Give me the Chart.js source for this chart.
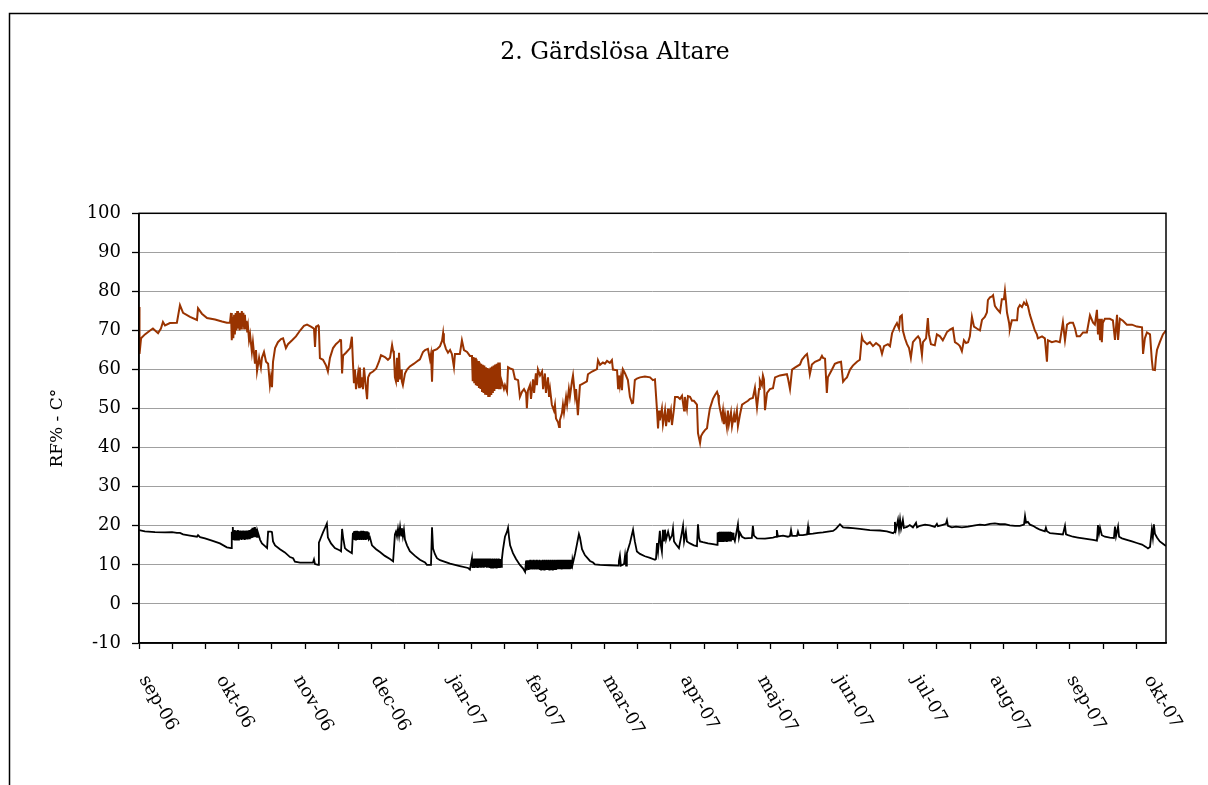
<!DOCTYPE html>
<html>
<head>
<meta charset="utf-8">
<script src="https://cdn.jsdelivr.net/npm/chart.js@4.4.0/dist/chart.umd.min.js"></script>
<style>
  html, body { margin: 0; padding: 0; background: #fff; }
  #wrap { position: relative; width: 1208px; height: 785px; overflow: hidden; }
  canvas { position: absolute; left: 0; top: 0; }
</style>
</head>
<body>
<div id="wrap"><canvas id="c" width="1208" height="785"></canvas></div>
<script>
// ---------- DATA ----------
const chartTitle = '2. Gärdslösa Altare';
const yAxisTitle = 'RF% - C°';
const monthLabels = ['sep-06','okt-06','nov-06','dec-06','jan-07','feb-07','mar-07','apr-07','maj-07','jun-07','jul-07','aug-07','sep-07','okt-07'];
const labelStepDays = 30;      // one month label per 30 days
const tickStepDays = 12.9;     // minor tick marks along the time axis
const totalDays = 398.5;       // length of the logged period
const yMin = -10, yMax = 100, yStep = 10;

// Relative humidity (RF %), [day, value]
const rfReadings = [[0,76],[0.2,64],[0.8,68],[2.3,69],[4.3,70],[5.4,70.5],[7.4,69.3],[8.5,70.5],[9.3,72.2],[10.1,71.3],[12.0,71.9],[14.7,72],[15.9,76.5],[17.1,74.5],[19.8,73.5],[22.5,72.7],[22.9,75.7],[24.4,74.3],[26.4,73.2],[29.5,72.8],[32.2,72.3],[34.1,72],[35.3,72],
[35.7,74.5],[36.0,67.5],[36.3,73.5],[36.6,68],[36.9,74],[37.2,69],[37.5,74.5],[37.8,70],[38.1,75],[38.4,70.5],[38.7,74.5],[39.0,70],[39.3,74.5],[39.6,70.5],[39.9,75],[40.2,71],[40.5,74.5],[40.8,70.5],[41.1,74],[41.4,70.5],[41.7,72.5],[42.0,69.5],[42.3,71],
[42.7,67.5],[43.1,69],[43.8,64.5],[44.2,67],[45.0,61.5],[45.4,65],[45.8,59.6],[46.6,63],[47.3,60.5],[47.7,63],[48.5,64.5],[49.3,62],[50.1,61.5],[50.8,56],[51.2,58],[51.6,55.5],[52.0,62],[52.8,65.5],[53.9,67],[55.1,67.8],[55.9,68],[57.0,65.5],[57.8,66.5],[59.4,67.5],[60.9,68.5],[62.5,70],[64.0,71.2],[65.2,71.5],[66.7,71],[67.9,70.5],[68.3,65.8],[68.7,71],[69.5,71.3],[69.8,70.5],[70.2,62.9],[71.4,62.5],[72.6,61],[73.3,59.5],[74.1,63],[75.3,65.5],[76.4,66.5],[77.6,67.2],[78.0,67.6],[78.4,67.5],[78.8,59],[79.2,63.6],[80.3,64.3],[81.9,65.5],[82.6,68.4],[83.0,62],[83.4,56.5],[83.8,60],[84.2,55],[85.0,59],[85.4,55.5],[85.7,60.5],[86.1,55.5],[86.5,58],[86.9,55],[87.3,60.5],[88.1,55],[88.5,52.4],[88.9,58],[89.6,59],[90.8,59.5],[92.0,60.2],[93.1,62],[93.9,63.7],[95.4,63.2],[96.6,62.5],[97.4,63],[98.2,66.3],[98.6,64.8],[98.9,64],[99.3,58],[99.7,57],[100.1,63],[100.5,56.8],[100.9,64.3],[101.3,57.5],[101.7,60],[102.0,57],[102.4,56],[103.2,59],[104.0,60],[105.1,60.8],[106.7,61.5],[108.3,62.3],[109.0,62.6],[110.2,64.5],[111.0,65],[112.1,65.3],[112.9,62.6],[113.3,64],[113.7,56.9],[114.1,64.8],[115.6,65.2],[116.8,66],[117.6,67.4],[118.0,69.3],[118.3,67],[119.1,65.3],[119.9,64.3],[120.7,65],[121.4,64],[122.2,60.6],[122.6,64],[124.5,64],[125.3,67.5],[126.1,65],[127.3,64.5],[128.4,63.5],
[129.2,63.5],[129.5,57],[129.8,63.2],[130.1,56.5],[130.4,63],[130.7,56],[131.0,62.6],[131.3,55.8],[131.6,62.2],[131.9,55.3],[132.2,61.8],[132.5,55],[132.8,61.5],[133.1,54.5],[133.4,61.2],[133.7,54],[134.0,61],[134.3,53.8],[134.6,60.6],[134.9,53.5],[135.2,60.4],[135.5,53.2],[135.8,60.3],[136.1,53],[136.4,60.5],[136.7,53.5],[137.0,60.8],[137.3,54],[137.6,61],[137.9,54.5],[138.2,61.3],[138.5,55],[138.8,61.5],[139.1,55],[139.4,61.8],[139.7,55.2],[140.0,61.8],[140.3,55],[140.6,57.3],
[141.6,55],[142.0,56],[142.8,54.4],[143.2,60.6],[144.0,60.3],[145.1,60],[145.9,57.6],[147.1,57.3],[147.8,53],[148.6,54.3],[149.4,55],[150.2,54],[150.5,50.1],[150.9,54.6],[151.7,56],[152.1,52.5],[152.9,57.5],[153.3,54],[154.0,59],[154.4,56],[154.8,60],[155.6,58.5],[156.4,59.5],[156.8,55],[157.5,59],[157.9,54],[158.7,58],[159.1,53],[159.5,55],[160.2,51],[161.0,49.5],[161.4,51],[161.8,47.5],[162.6,46.5],[163.0,45.3],[163.3,47],[164.1,48.8],[164.5,51],[164.9,49],[165.7,53],[166.1,51],[166.8,55],[167.2,53],[168.0,57],[168.4,58.5],[169.2,53],[169.6,55],[170.3,48.3],[171.1,56],[171.9,56.3],[173.8,57],[174.2,58.8],[175.8,59.5],[177.7,60.1],[178.1,62.4],[178.9,61.2],[180.0,61.8],[180.8,61.5],[181.6,62.2],[182.7,61.7],[183.5,62.4],[183.9,60],[185.5,59.8],[185.9,55.2],[186.2,58.5],[186.6,56],[187.0,58],[187.4,54.7],[187.8,60],[188.6,59],[189.7,57.3],[190.5,53],[191.3,51.4],[191.7,51.5],[192.4,57.3],[193.2,57.7],[194.4,58],[196.3,58.2],[198.3,58],[199.4,57.3],[200.2,57.5],[201.0,49.6],[201.4,44.9],[201.8,49.5],[202.1,47],[202.9,50],[203.3,46],[204.1,49.5],[204.5,45.5],[205.3,50],[205.6,46.5],[206.4,49.5],[206.8,45.8],[207.6,50],[208.0,53],[209.1,53],[209.9,52.5],[210.7,53.3],[211.5,49.5],[211.8,53],[212.6,50],[213.0,53.2],[213.8,53],[214.6,52],[215.3,52],[216.5,51],[216.9,43.7],[217.7,41.2],[218.1,43],[218.8,43.8],[219.6,44.5],[220.4,45],[220.8,47],[221.5,50],[222.7,52.5],[223.5,53.5],[224.3,54.3],[224.7,53.5],[225.0,51.5],[225.4,50],[226.2,47.5],[226.6,49.5],[227.0,46],[227.4,48.5],[228.1,45.3],[228.5,49.5],[228.9,46],[229.7,49],[230.1,45.5],[230.9,48.5],[231.2,46.5],[232.0,49.5],[232.4,45.5],[233.2,48.5],[234.0,51],[235.1,51.5],[236.3,52],[237.1,52.5],[238.2,52.7],[239.0,55.3],[239.8,50.3],[240.6,55],[240.9,57.3],[241.7,56],[242.1,58.5],[242.5,57.5],[242.9,49.6],[243.7,54],[244.8,55],[246.0,55.2],[246.8,58],[248.7,58.5],[251.4,58.8],[251.8,57.8],[252.6,55],[253.4,60],[254.5,60.5],[256.5,61.3],[257.2,62.5],[258.4,63.5],[259.2,64],[259.6,62.5],[260.3,58.8],[261.1,61.3],[262.3,62],[264.2,62.5],[265.0,63.5],[265.4,63],[266.2,62.8],[266.9,54],[267.3,58],[268.9,60],[270.0,61.5],[271.2,61.8],[272.4,62],[273.2,56.9],[273.9,57.5],[274.7,58],[275.9,60],[277.0,61],[278.6,62],[279.7,62.5],[280.5,68.4],[280.9,67.5],[282.5,66.5],[283.6,67],[284.8,66],[286.0,66.8],[287.5,66],[288.3,64],[289.1,66],[290.6,66.5],[291.4,66],[292.2,69.3],[293.3,71],[294.1,71.9],[294.9,70.5],[295.3,73.5],[296.0,73.9],[296.4,70],[297.2,68],[298.0,66.5],[298.8,65.5],[299.5,63],[300.3,67],[301.5,68],[302.3,68.5],[303.0,67.8],[303.8,63.7],[304.2,67],[305.4,68],[306.1,73.2],[306.5,69],[307.3,66.5],[308.8,66.2],[309.6,69],[310.8,68.5],[311.9,67.5],[312.7,68.5],[313.5,69.6],[314.7,70.2],[315.8,70.6],[316.6,67],[317.8,66.5],[318.5,66],[319.3,64.7],[320.1,67.5],[320.9,66.8],[321.7,67],[322.4,68.5],[323.2,73.5],[324.0,71],[325.1,70.5],[326.3,70],[327.1,72.7],[328.2,73.5],[329.0,74.6],[329.4,77.8],[330.2,78.5],[331.0,78.7],[331.4,79],[332.1,76.3],[332.9,75.5],[334.1,74.6],[334.8,78],[335.6,78],[336.0,80.2],[336.4,77.5],[336.8,74.6],[337.6,72],[337.9,70.3],[338.7,72.6],[340.7,72.6],[341.1,75.7],[341.8,76.5],[342.6,76],[343.4,77.2],[344.2,76.5],[344.5,77],[344.9,76.3],[345.7,74],[346.9,71.5],[347.6,70],[348.4,69],[348.8,68],[350.4,68.5],[351.5,68],[352.3,62],[352.7,67.5],[354.2,67],[355.8,67.3],[357.3,67],[358.5,72.1],[359.3,67.5],[360.1,71.5],[361.2,72],[362.4,72],[363.2,70.5],[363.9,68.5],[365.1,68.5],[366.3,69.5],[367.8,69.5],[369.0,73.9],[370.2,72],[370.9,71.5],[371.7,75.3],[372.1,69],[372.5,73],[372.9,67.5],[373.3,73],[373.6,67],[374.0,72],[374.8,73],[376.7,73],[377.9,72.6],[378.7,67.6],[379.5,74],[379.9,67.6],[380.6,73],[381.8,72.5],[383.3,71.5],[385.3,71.5],[387.2,71],[389.2,70.8],[389.6,64],[390.3,68],[391.1,69.5],[392.3,69],[393.0,62.5],[393.4,60],[394.2,59.9],[394.6,63],[395.0,65],[396.1,67],[397.3,69],[398.5,70]];

// Temperature (°C), [day, value]
const tempReadings = [[0,18.9],[2.3,18.6],[6.2,18.4],[10.1,18.3],[12.8,18.4],[14.7,18.2],[15.9,18.2],[17.1,17.8],[19.8,17.5],[22.5,17.2],[22.9,17.6],[23.7,17.1],[25.6,16.8],[28.3,16.2],[31.4,15.5],[34.1,14.5],[35.7,14.3],[36.0,18.5],
[36.2,16.6],[36.4,19.7],[36.6,16.8],[36.8,18.8],[37.0,16.5],[37.2,18.9],[37.4,16.6],[37.6,18.7],[37.8,16.5],[38.0,18.8],[38.2,16.6],[38.4,18.9],[38.6,16.5],[38.8,18.7],[39.0,16.6],[39.2,18.8],[39.4,16.5],[39.6,18.6],[39.8,16.4],[40.0,18.7],[40.2,16.6],[40.4,18.8],[40.6,16.5],[40.8,18.6],[41.0,16.4],[41.2,18.7],[41.4,16.5],[41.6,18.8],[41.8,16.6],[42.0,18.7],[42.2,16.5],[42.4,18.8],[42.6,16.7],[42.8,18.9],[43.0,16.6],[43.2,18.8],[43.4,16.8],[43.6,19.2],[43.8,16.9],[44.0,19.5],[44.2,17.0],[44.4,19.4],[44.6,17.1],[44.8,19.7],[45.0,17.2],[45.2,19.3],[45.4,17.3],[45.6,19.2],[45.8,17.2],[46.0,18.6],
[47.0,16.4],[47.7,15.5],[48.9,14.8],[49.7,14.3],[50.1,18.5],[51.2,18.5],[51.6,18.4],[52.0,16],[52.8,15],[54.7,14],[56.6,13.2],[58.6,12],[59.8,11.7],[60.5,10.8],[62.5,10.6],[67.5,10.6],[67.9,11.4],[68.3,10.2],[69.5,10],[69.8,15.7],[70.6,17],[71.4,18.3],[72.2,19.5],[72.9,20.6],[73.3,17],[74.5,15.5],[76.0,14.3],[78.0,13.7],[78.4,13.5],[78.8,19.2],[79.2,17],[79.9,14.3],[80.7,13.8],[82.6,13],[83.0,18.2],
[83.2,16.8],[83.4,18.6],[83.6,16.6],[83.8,18.7],[84.0,16.5],[84.2,18.6],[84.4,16.5],[84.6,18.7],[84.8,16.4],[85.0,18.6],[85.2,16.5],[85.4,18.5],[85.6,16.4],[85.8,18.6],[86.0,16.5],[86.2,18.7],[86.4,16.4],[86.6,18.6],[86.8,16.5],[87.0,18.7],[87.2,16.4],[87.4,18.6],[87.6,16.5],[87.8,18.5],[88.0,16.4],[88.2,18.6],[88.4,16.5],[88.6,18.5],[88.8,16.6],[89.0,18.3],[89.2,16.6],
[89.6,17],[90.4,15],[92.0,14],[93.5,13.3],[95.4,12.3],[97.4,11.5],[98.6,10.9],[99.3,17.8],[99.7,18.5],[100.1,17.3],[100.5,19.2],[100.9,17.4],[101.3,19.7],[101.7,17.5],[102.0,19.4],[102.4,17.3],[102.8,19],[103.2,16.5],[104.0,15],[105.1,13.5],[107.1,12.3],[109.0,11.3],[111.0,10.6],[111.7,10],[113.3,10],[113.7,19.6],[114.1,14.2],[114.8,12.8],[115.6,11.7],[116.8,11.2],[120.7,10.3],[124.5,9.7],[127.7,9.2],[128.4,8.8],
[129.2,11.7],[129.4,9.2],[129.6,11.5],[129.8,9.3],[130.0,11.6],[130.2,9.2],[130.4,11.5],[130.6,9.4],[130.8,11.6],[131.0,9.3],[131.2,11.5],[131.4,9.2],[131.6,11.6],[131.8,9.3],[132.0,11.5],[132.2,9.4],[132.4,11.6],[132.6,9.3],[132.8,11.5],[133.0,9.3],[133.2,11.6],[133.4,9.4],[133.6,11.5],[133.8,9.3],[134.0,11.6],[134.2,9.4],[134.4,11.5],[134.6,9.4],[134.8,11.6],[135.0,9.3],[135.2,11.5],[135.4,9.4],[135.6,11.6],[135.8,9.3],[136.0,11.5],[136.2,9.4],[136.4,11.6],[136.6,9.3],[136.8,11.5],[137.0,9.4],[137.2,11.6],[137.4,9.3],[137.6,11.5],[137.8,9.4],[138.0,11.6],[138.2,9.4],[138.4,11.5],[138.6,9.3],[138.8,11.6],[139.0,9.4],[139.2,11.5],[139.4,9.4],[139.6,11.6],[139.8,9.4],[140.0,11.5],[140.2,9.5],[140.4,11.5],[140.6,9.5],[140.8,11.4],
[141.2,13.8],[142.0,17.2],[142.8,18.5],[143.2,19.5],[143.6,17],[144.0,15],[145.1,13],[146.3,11.5],[147.8,10],[149.0,9.1],[149.8,8.2],
[150.2,11.1],[150.4,8.6],[150.6,11.2],[150.8,8.8],[151.0,11.0],[151.2,8.7],[151.4,11.2],[151.6,8.8],[151.8,11.3],[152.0,8.8],[152.2,11.1],[152.4,8.9],[152.6,11.2],[152.8,8.8],[153.0,11.3],[153.2,8.9],[153.4,11.2],[153.6,8.8],[153.8,11.1],[154.0,8.9],[154.2,11.3],[154.4,8.8],[154.6,11.2],[154.8,8.9],[155.0,11.2],[155.2,8.8],[155.4,11.3],[155.6,8.9],[155.8,11.2],[156.0,8.8],[156.2,11.2],[156.4,8.9],[156.6,11.3],[156.8,8.9],[157.0,11.2],[157.2,8.8],[157.4,11.3],[157.6,8.9],[157.8,11.2],[158.0,8.9],[158.2,11.3],[158.4,8.9],[158.6,11.2],[158.8,8.9],[159.0,11.3],[159.2,8.8],[159.4,11.2],[159.6,8.9],[159.8,11.3],[160.0,8.9],[160.2,11.2],[160.4,8.8],[160.6,11.3],[160.8,8.9],[161.0,11.2],[161.2,8.9],[161.4,11.3],[161.6,8.9],[161.8,11.2],[162.0,8.8],[162.2,11.3],[162.4,8.9],[162.6,11.2],[162.8,8.9],[163.0,11.3],[163.2,8.9],[163.4,11.2],[163.6,8.9],[163.8,11.3],[164.0,8.8],[164.2,11.2],[164.4,8.9],[164.6,11.3],[164.8,8.9],[165.0,11.2],[165.2,8.9],[165.4,11.3],[165.6,8.9],[165.8,11.2],[166.0,8.9],[166.2,11.3],[166.4,8.9],[166.6,11.2],[166.8,8.9],[167.0,11.3],[167.2,8.9],[167.4,11.2],[167.6,9.0],[167.8,11.3],[168.0,9.0],[168.2,11.2],
[168.4,10.5],[169.2,12.8],[170.0,15.5],[170.7,17.9],[171.1,17],[171.9,14],[173.0,12.5],[175.0,11],[176.2,10.6],[176.9,10.1],[178.9,10],[182.7,9.9],[185.9,9.8],[186.2,11],[186.6,12.4],[187.0,9.8],[188.2,10.2],[188.6,12.4],[189.0,9.8],[189.3,13],[190.5,15.6],[191.7,19],[192.4,16],[193.2,13.4],[194.4,12.8],[196.3,12.2],[198.3,11.8],[200.2,11.3],[200.6,11.5],[201.0,15.6],[201.4,13.4],[202.1,18.7],[202.5,15],[202.9,13.4],[203.3,19],[203.7,16],[204.1,19],[204.5,16.5],[205.3,18.5],[206.0,16.5],[206.8,17.5],[207.2,19.3],[207.6,16],[208.4,15.2],[209.5,14.3],[210.3,17],[210.7,18.5],[211.1,20],[211.5,16],[212.2,18.5],[212.6,16],[213.8,15.5],[215.3,15],[216.5,14.8],[216.9,20.4],[217.3,17],[217.7,16],[218.8,15.8],[220.8,15.5],[222.7,15.3],[224.3,15.1],
[224.5,18.3],[224.7,16.2],[224.9,18.4],[225.1,16.1],[225.3,18.5],[225.5,16.2],[225.7,18.4],[225.9,16.1],[226.1,18.5],[226.3,16.2],[226.5,18.4],[226.7,16.1],[226.9,18.5],[227.1,16.2],[227.3,18.4],[227.5,16.2],[227.7,18.5],[227.9,16.1],[228.1,18.4],[228.3,16.2],[228.5,18.5],[228.7,16.2],[228.9,18.4],[229.1,16.3],[229.3,18.5],[229.5,16.2],[229.7,18.4],[229.9,16.3],[230.1,18.3],[230.3,16.4],[230.5,18.2],
[230.7,17],[231.2,16.1],[232.4,20.4],[232.8,17],[233.2,18.2],[234.0,17.2],[235.1,16.8],[237.8,16.9],[238.2,20],[238.6,17.5],[239.8,16.8],[242.9,16.7],[246.0,17],[247.2,17.2],[247.5,18.9],[247.9,17.3],[249.9,17.5],[251.8,17.2],[252.6,17.4],[253.0,18.9],[253.4,17.4],[255.3,17.4],[255.7,18.5],[256.1,17.6],[257.6,17.6],[259.2,17.8],[259.6,19.8],[259.9,17.9],[261.5,18],[263.5,18.2],[265.4,18.3],[267.3,18.5],[269.3,18.7],[270.4,19.2],[272.0,20.4],[273.2,19.6],[275.1,19.5],[277.0,19.4],[279.7,19.2],[283.6,18.9],[287.5,18.8],[290.2,18.6],[292.6,18.1],[293.0,18.4],[293.3,21],[293.7,19],[294.5,21.5],[294.9,19.2],[295.3,21.6],[295.7,19.3],[296.4,21.5],[296.8,19.5],[298.0,19.7],[299.1,20.2],[300.3,19.6],[301.5,20.8],[301.9,19.6],[303.0,20],[305.0,20.3],[306.9,20.1],[308.8,19.7],[309.6,20.5],[310.0,19.9],[311.6,20.2],[313.1,20.5],[313.5,21.4],[313.9,20],[315.4,19.6],[317.0,19.8],[319.3,19.6],[321.7,19.8],[324.4,20.1],[326.3,20.3],[328.2,20.2],[330.2,20.5],[332.1,20.6],[334.1,20.4],[336.0,20.4],[337.9,20.1],[339.9,20],[341.8,20],[343.4,20.3],[343.8,22.5],[344.2,20.8],[344.9,21],[345.7,20.3],[346.9,20],[348.4,19.4],[349.6,19],[351.5,18.6],[351.9,19.5],[352.3,18.6],[353.5,18.1],[355.4,18],[358.5,17.8],[359.3,20],[359.7,17.8],[360.5,17.6],[362.4,17.2],[364.3,17],[366.3,16.8],[368.2,16.6],[370.2,16.4],[371.7,16.2],[372.1,20.2],[372.5,18],[372.9,19.5],[373.6,17.6],[374.8,17.2],[376.7,17],[378.3,16.9],[378.7,19.8],[379.1,17.3],[379.9,19.8],[380.3,17.2],[381.4,16.8],[383.3,16.4],[385.3,16],[387.2,15.6],[389.2,15.2],[390.7,14.6],[391.5,14.2],[392.3,14.6],[393.0,19],[393.4,17],[393.8,20.4],[394.2,18],[395.0,17],[396.1,16],[397.3,15.4],[398.5,14.8]];

// ---------- CHART ----------
const serif = '"DejaVu Serif", "Liberation Serif", serif';
const tickMarkDays = [];
for (let d = 0; d <= totalDays + 1e-6; d += tickStepDays) tickMarkDays.push(+d.toFixed(2));

const framePlugin = {
  id: 'frame',
  beforeDraw(chart) {
    const ctx = chart.ctx;
    ctx.save();
    ctx.strokeStyle = '#000';
    ctx.lineWidth = 1.5;
    ctx.beginPath();
    ctx.moveTo(9.5, 785);
    ctx.lineTo(9.5, 13.5);
    ctx.lineTo(1208, 13.5);
    ctx.stroke();
    ctx.restore();
  },
  afterDraw(chart) {
    const {ctx, chartArea: a} = chart;
    ctx.save();
    ctx.strokeStyle = '#000';
    ctx.lineWidth = 1.5;
    ctx.strokeRect(a.left, a.top, a.right - a.left, a.bottom - a.top);
    ctx.restore();
  }
};

const monthLabelPlugin = {
  id: 'monthLabels',
  afterDraw(chart) {
    const xs = chart.scales.x;
    const ctx = chart.ctx;
    const baseY = xs.bottom + 28;
    monthLabels.forEach((lab, i) => {
      const px = xs.getPixelForValue(i * labelStepDays);
      ctx.save();
      ctx.translate(px + 4, baseY);
      ctx.rotate(Math.PI / 3);
      ctx.font = '18px ' + serif;
      ctx.fillStyle = '#000';
      ctx.textAlign = 'left';
      ctx.textBaseline = 'middle';
      ctx.fillText(lab, 0, 0);
      ctx.restore();
    });
  }
};

new Chart(document.getElementById('c'), {
  type: 'line',
  data: {
    datasets: [
      {
        label: 'RF%',
        data: rfReadings.map(([x, y]) => ({x, y})),
        borderColor: '#993300',
        borderWidth: 2,
        pointRadius: 0,
        tension: 0
      },
      {
        label: 'C°',
        data: tempReadings.map(([x, y]) => ({x, y})),
        borderColor: '#000000',
        borderWidth: 1.8,
        pointRadius: 0,
        tension: 0
      }
    ]
  },
  options: {
    responsive: false,
    animation: false,
    layout: { padding: { left: 64, right: 42, top: 0, bottom: 136 } },
    plugins: {
      legend: { display: false },
      tooltip: { enabled: false },
      title: {
        display: true,
        text: chartTitle,
        color: '#000',
        font: { family: serif, size: 23.5, weight: 'normal', lineHeight: 1.2 },
        padding: { top: 39, bottom: 146.1 }
      }
    },
    scales: {
      x: {
        type: 'linear',
        min: 0,
        max: totalDays,
        afterBuildTicks: (s) => { s.ticks = tickMarkDays.map(v => ({value: v})); },
        ticks: { display: false, autoSkip: false },
        grid: { drawOnChartArea: false, drawTicks: true, tickLength: 6, tickColor: '#000', tickWidth: 1.3 },
        border: { color: '#000', width: 1.5 },
        afterFit: (s) => { s.height = 6; s.paddingLeft = 0; s.paddingRight = 0; }
      },
      y: {
        min: yMin,
        max: yMax,
        ticks: { stepSize: yStep, color: '#000', font: { family: serif, size: 18 }, padding: 11 },
        grid: { color: '#a0a0a0', lineWidth: 1, tickColor: '#000', tickLength: 7, tickWidth: 1.3 },
        border: { color: '#000', width: 1.5 },
        title: { display: true, text: yAxisTitle, color: '#000', font: { family: serif, size: 17 }, padding: { top: -16.2, bottom: 0 } },
        afterFit: (s) => { s.width = 75; s.paddingTop = 0; s.paddingBottom = 0; }
      }
    }
  },
  plugins: [framePlugin, monthLabelPlugin]
});
</script>
</body>
</html>
